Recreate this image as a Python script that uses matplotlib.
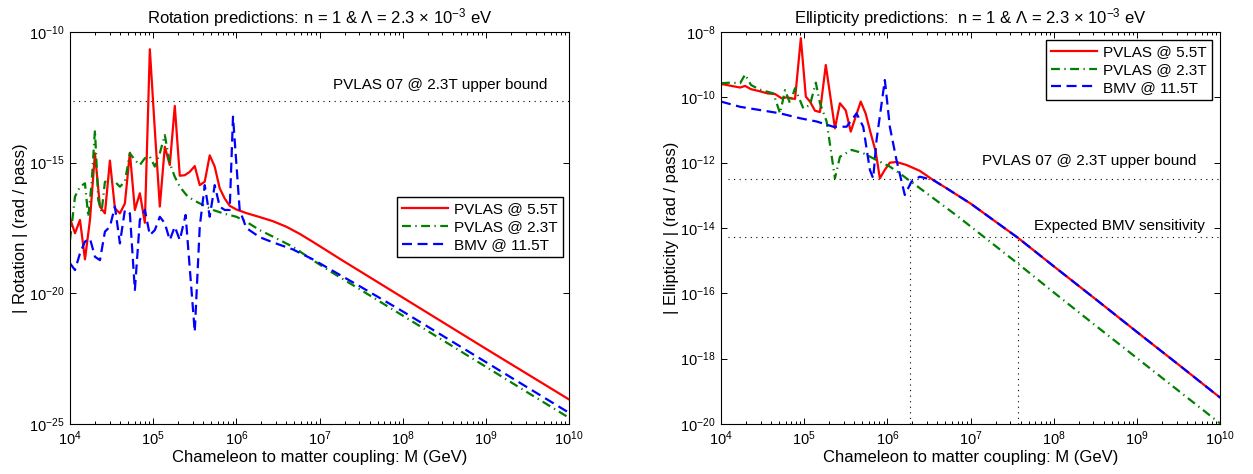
import matplotlib.pyplot as plt
import numpy as np
from matplotlib.ticker import FixedLocator, LogLocator, NullLocator

# Set backend to Agg for headless environments
plt.switch_backend("Agg")

plt.rcParams["font.family"] = ["Liberation Sans", "DejaVu Sans"]
plt.rcParams["mathtext.fontset"] = "custom"
plt.rcParams["mathtext.rm"] = "Liberation Sans"
plt.rcParams["mathtext.it"] = "Liberation Sans:italic"
plt.rcParams["mathtext.bf"] = "Liberation Sans:bold"

# ---- data (log10 values) ----
# Rotation panel
rot_red_logM = [4.00, 4.06, 4.12, 4.18, 4.24, 4.30, 4.36, 4.42, 4.48, 4.54, 4.60, 4.66,
                4.72, 4.78, 4.84, 4.90, 4.96, 5.02, 5.08, 5.14, 5.20, 5.26, 5.32, 5.38,
                5.44, 5.50, 5.56, 5.62, 5.68, 5.74, 5.80, 5.86, 5.92, 6.00, 6.12, 6.28,
                6.44, 6.60, 6.76, 6.92, 7.09, 7.28, 7.49, 8.0, 8.5, 9.0, 9.5, 10.0]
rot_red_logy = [-17.13, -17.70, -17.19, -18.70, -17.19, -14.64, -16.68, -16.94, -14.92,
                -16.75, -16.94, -16.56, -14.62, -16.81, -16.17, -17.30, -10.66, -13.75,
                -16.68, -14.39, -15.09, -12.83, -15.50, -15.48, -15.35, -15.13, -15.86,
                -15.73, -14.72, -15.15, -15.98, -16.37, -16.65, -16.79, -16.93, -17.08,
                -17.24, -17.45, -17.72, -18.03, -18.37, -18.75, -19.16, -20.16, -21.14,
                -22.12, -23.09, -24.06]

rot_green_logM = [4.00, 4.06, 4.12, 4.18, 4.22, 4.26, 4.30, 4.34, 4.38, 4.42, 4.48, 4.54,
                  4.60, 4.66, 4.72, 4.78, 4.84, 4.90, 4.96, 5.02, 5.08, 5.14, 5.20, 5.26,
                  5.32, 5.40, 5.48, 5.60, 5.72, 5.84, 6.00, 6.12, 6.28, 6.44, 6.68, 6.92,
                  7.16, 7.44, 8.0, 8.5, 9.0, 9.5, 10.0]
rot_green_logy = [-17.96, -16.30, -15.92, -15.79, -17.07, -15.79, -13.75, -16.43, -16.88,
                  -15.73, -15.73, -15.73, -15.92, -15.73, -14.64, -14.90, -15.09, -14.83,
                  -14.77, -15.15, -14.64, -13.94, -15.03, -15.54, -15.92, -16.24, -16.43,
                  -16.62, -16.81, -16.94, -17.07, -17.26, -17.58, -17.83, -18.22, -18.73,
                  -19.22, -19.76, -20.85, -21.83, -22.81, -23.79, -24.76]

rot_blue_logM = [4.00, 4.06, 4.12, 4.18, 4.24, 4.30, 4.36, 4.42, 4.48, 4.54, 4.60, 4.66,
                 4.72, 4.78, 4.84, 4.90, 4.96, 5.02, 5.08, 5.14, 5.20, 5.26, 5.32, 5.39,
                 5.50, 5.56, 5.62, 5.68, 5.74, 5.80, 5.86, 5.92, 5.96, 6.04, 6.12, 6.28,
                 6.44, 6.68, 6.92, 7.33, 7.49, 8.0, 8.5, 9.0, 9.5, 10.0]
rot_blue_logy = [-18.85, -19.11, -18.47, -18.02, -17.90, -18.60, -18.73, -17.64, -17.45,
                 -16.68, -18.09, -16.81, -16.94, -19.87, -17.19, -16.81, -17.77, -17.58,
                 -17.07, -17.32, -17.96, -17.45, -17.96, -17.00, -21.47, -17.45, -15.86,
                 -17.07, -15.86, -16.68, -16.81, -16.81, -13.24, -16.81, -17.50, -17.85,
                 -18.05, -18.32, -18.70, -19.45, -19.74, -20.69, -21.66, -22.63, -23.60,
                 -24.57]

# Ellipticity panel
ell_red_logM = [4.00, 4.23, 4.29, 4.36, 4.46, 4.56, 4.65, 4.73, 4.79, 4.89, 4.96, 5.02,
                5.07, 5.13, 5.19, 5.26, 5.37, 5.43, 5.50, 5.56, 5.62, 5.68, 5.74, 5.80,
                5.86, 5.91, 5.97, 6.03, 6.11, 6.23, 6.39, 6.55, 6.71, 6.87, 7.00, 7.57,
                8.0, 8.5, 9.0, 9.5, 10.0]
ell_red_logy = [-9.59, -9.70, -9.65, -9.75, -9.81, -9.88, -9.90, -10.03, -10.00, -10.05,
                -8.19, -9.98, -10.13, -10.41, -10.45, -9.01, -10.95, -10.18, -10.40, -11.05,
                -10.59, -10.13, -10.50, -11.10, -11.66, -12.48, -12.22, -12.00, -11.98,
                -12.07, -12.25, -12.53, -12.78, -13.04, -13.25, -14.30, -15.17, -16.17,
                -17.18, -18.18, -19.19]

ell_green_logM = [4.00, 4.11, 4.23, 4.29, 4.36, 4.46, 4.63, 4.71, 4.77, 4.83, 4.89, 4.99,
                  5.07, 5.14, 5.19, 5.27, 5.37, 5.43, 5.57, 5.71, 5.87, 6.03, 6.15, 6.39,
                  6.85, 7.00, 7.57, 8.0, 8.5, 9.0, 9.5, 10.0]
ell_green_logy = [-9.57, -9.55, -9.57, -9.30, -9.62, -9.76, -9.88, -10.49, -9.78, -10.18,
                  -9.72, -10.34, -10.23, -9.55, -10.18, -10.74, -12.48, -11.82, -11.61,
                  -11.71, -11.92, -12.12, -12.33, -12.78, -13.65, -13.95, -15.09, -15.97,
                  -16.98, -17.98, -18.98, -19.98]

ell_blue_logM = [4.00, 4.23, 4.47, 4.71, 4.95, 5.15, 5.35, 5.51, 5.63, 5.71, 5.79, 5.83,
                 5.87, 5.97, 6.03, 6.11, 6.21, 6.29, 6.39, 6.55, 6.71, 6.87, 7.00, 7.57,
                 8.0, 8.5, 9.0, 9.5, 10.0]
ell_blue_logy = [-10.13, -10.29, -10.39, -10.49, -10.64, -10.74, -10.90, -10.90, -10.49,
                 -10.90, -12.22, -12.48, -11.31, -9.47, -10.90, -11.92, -12.99, -12.58,
                 -12.43, -12.53, -12.78, -13.04, -13.25, -14.30, -15.17, -16.17, -17.18,
                 -18.18, -19.19]

# reference levels (log10)
rot_pvlas_bound = -12.64
ell_pvlas_bound = -12.49
ell_bmv_sens = -14.28
ell_pvlas_cross_logM = 6.27
ell_bmv_cross_logM = 7.57

labels = ["PVLAS @ 5.5T", "PVLAS @ 2.3T", "BMV @ 11.5T"]
RED = "#ff0000"
GREEN = "#008000"
BLUE = "#0000ff"
FS = 11
LABEL_FS = 12


def p10(vals):
    return np.power(10.0, np.asarray(vals, dtype=float))


def style_axes(ax, ylim, yticks):
    ax.set_xscale("log")
    ax.set_yscale("log")
    ax.set_xlim(1e4, 1e10)
    ax.set_ylim(*ylim)
    ax.xaxis.set_major_locator(FixedLocator(p10(range(4, 11))))
    ax.xaxis.set_minor_locator(LogLocator(base=10, subs=np.arange(2, 10), numticks=20))
    ax.yaxis.set_major_locator(FixedLocator(yticks))
    ax.yaxis.set_minor_locator(NullLocator())
    ax.tick_params(which="both", direction="in", top=True, right=True, labelsize=10.5,
                   width=0.7, pad=4)
    ax.tick_params(which="major", length=4)
    ax.tick_params(which="minor", length=2)
    for spine in ax.spines.values():
        spine.set_linewidth(0.8)
    ax.set_xlabel("Chameleon to matter coupling: M (GeV)", fontsize=LABEL_FS, labelpad=1)


def draw_curves(ax, red, green, blue):
    ax.plot(p10(red[0]), p10(red[1]), color=RED, lw=1.6, label=labels[0])
    ax.plot(p10(green[0]), p10(green[1]), color=GREEN, lw=1.6,
            dashes=(4, 2, 0.6, 2), label=labels[1])
    ax.plot(p10(blue[0]), p10(blue[1]), color=BLUE, lw=1.6,
            dashes=(4.5, 2.5), label=labels[2])


def add_legend(ax, anchor):
    leg = ax.legend(loc="upper right", bbox_to_anchor=anchor, borderaxespad=0,
                    fontsize=FS, handlelength=3.0, handletextpad=0.4,
                    labelspacing=0.25, borderpad=0.35, fancybox=False,
                    framealpha=1, edgecolor="black")
    leg.get_frame().set_linewidth(1.0)


def hline(ax, logy, x0):
    ax.plot([10 ** x0, 1e10], [10 ** logy, 10 ** logy], color="k", lw=0.8,
            linestyle=(0, (1, 4)))


fig = plt.figure(figsize=(12.53, 4.74), dpi=100)
ax1 = fig.add_axes([70 / 1253, 50 / 474, 499 / 1253, 392 / 474])
ax2 = fig.add_axes([721 / 1253, 50 / 474, 499 / 1253, 392 / 474])

# Rotation
style_axes(ax1, (1e-25, 1e-10), p10([-25, -20, -15, -10]))
hline(ax1, rot_pvlas_bound, 4.04)
draw_curves(ax1, (rot_red_logM, rot_red_logy), (rot_green_logM, rot_green_logy),
            (rot_blue_logM, rot_blue_logy))
ax1.text(10 ** 9.745, 10 ** -12.03, "PVLAS 07 @ 2.3T upper bound", fontsize=FS,
         ha="right", va="center")
ax1.set_title(r"Rotation predictions: n = 1 & Λ = 2.3 × $\mathdefault{10^{-3}}$ eV",
              fontsize=LABEL_FS, pad=6)
ax1.set_ylabel("| Rotation | (rad / pass)", fontsize=LABEL_FS, labelpad=1)
add_legend(ax1, (0.988, 0.579))

# Ellipticity
style_axes(ax2, (1e-20, 1e-8), p10(range(-20, -7, 2)))
hline(ax2, ell_pvlas_bound, 4.09)
hline(ax2, ell_bmv_sens, 4.09)
ax2.plot([10 ** ell_pvlas_cross_logM] * 2, [1e-20, 10 ** ell_pvlas_bound], color="k",
         lw=0.8, linestyle=(0, (1, 4)))
ax2.plot([10 ** ell_bmv_cross_logM] * 2, [1e-20, 10 ** ell_bmv_sens], color="k",
         lw=0.8, linestyle=(0, (1, 4)))
draw_curves(ax2, (ell_red_logM, ell_red_logy), (ell_green_logM, ell_green_logy),
            (ell_blue_logM, ell_blue_logy))
ax2.text(10 ** 9.71, 10 ** -11.94, "PVLAS 07 @ 2.3T upper bound", fontsize=FS,
         ha="right", va="center")
ax2.text(10 ** 9.82, 10 ** -13.94, "Expected BMV sensitivity", fontsize=FS,
         ha="right", va="center")
ax2.set_title(r"Ellipticity predictions:  n = 1 & Λ = 2.3 × $\mathdefault{10^{-3}}$ eV",
              fontsize=LABEL_FS, pad=6)
ax2.set_ylabel("| Ellipticity | (rad / pass)", fontsize=LABEL_FS, labelpad=1)
add_legend(ax2, (0.984, 0.98))

fig.savefig("out.png", dpi=100)
